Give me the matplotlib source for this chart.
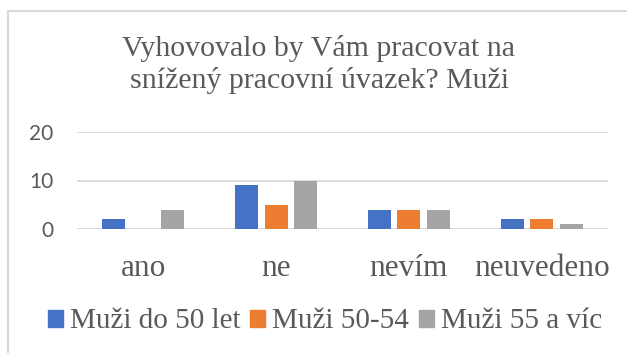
import numpy as np
import matplotlib.pyplot as plt
from matplotlib.patches import Rectangle, Patch

categories = ['ano', 'ne', 'nevím', 'neuvedeno']
series_names = ['Muži do 50 let', 'Muži 50-54', 'Muži 55 a víc']
do50 = [2, 9, 4, 2]
m50_54 = [0, 5, 4, 2]
m55 = [4, 10, 4, 1]
colors = ['#4472C4', '#ED7D31', '#A5A5A5']
title = 'Vyhovovalo by Vám pracovat na\nsnížený pracovní úvazek? Muži'

W, H = 627, 353
fig = plt.figure(figsize=(W / 100, H / 100), dpi=100)
text_col = '#595959'
serif = ['Liberation Serif', 'DejaVu Serif']
sans = ['Lato', 'DejaVu Sans']

# chart frame
fig.patches.append(Rectangle((7.5 / W, -0.1), 1.2, (H - 10.5) / H + 0.1,
                             transform=fig.transFigure, fill=False,
                             edgecolor='#D9D9D9', linewidth=1.5))

ax = fig.add_axes([77 / W, (H - 229) / H, 531 / W, 97 / H])
x = np.arange(len(categories))
bw = 0.173
off = 0.222
for i, (vals, c) in enumerate(zip([do50, m50_54, m55], colors)):
    ax.bar(x + (i - 1) * off, vals, bw, color=c, zorder=3)

ax.set_xlim(-0.5, len(categories) - 0.5)
ax.set_ylim(0, 20)
ax.set_yticks([0, 10, 20])
ax.yaxis.grid(True, color='#D9D9D9', linewidth=1.3, zorder=0)
for s in ax.spines.values():
    s.set_visible(False)
ax.axhline(0, color='#D9D9D9', linewidth=1.3, zorder=1)
ax.tick_params(length=0)
ax.set_xticks(x)
ax.set_xticklabels(categories, family=serif, fontsize=22.5, color=text_col)
ax.tick_params(axis='x', pad=18)
for lab in ax.get_yticklabels():
    lab.set_family(sans)
    lab.set_fontsize(15)
    lab.set_color(text_col)
ax.tick_params(axis='y', pad=17)

fig.text(319 / W, 1 - 64.5 / H, title, ha='center', va='center',
         family=serif, fontsize=21.5, color=text_col, linespacing=1.28)

handles = [Patch(color=c) for c in colors]
fig.legend(handles, series_names, loc='center', bbox_to_anchor=(325 / W, 1 - 321.5 / H),
           ncol=3, frameon=False, prop={'family': serif, 'size': 21},
           labelcolor=text_col, handlelength=0.52, handleheight=0.52,
           handletextpad=0.24, columnspacing=0.34)

fig.savefig('out.png', dpi=100)
